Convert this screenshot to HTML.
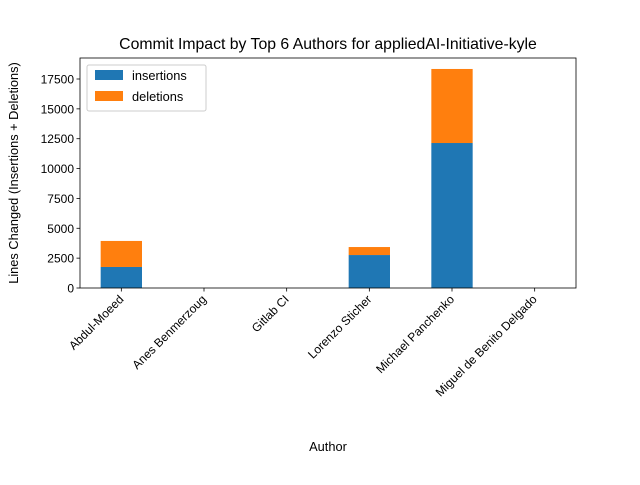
<!DOCTYPE html>
<html><head><meta charset="utf-8"><style>
body{margin:0;background:#fff}
svg text{font-family:"Liberation Sans","DejaVu Sans",sans-serif;fill:#000}
</style></head><body>
<svg id="c" width="640" height="480" xmlns="http://www.w3.org/2000/svg"></svg>
<script>
const categories=["Abdul-Moeed","Anes Benmerzoug","Gitlab CI","Lorenzo Sticher","Michael Panchenko","Miguel de Benito Delgado"];
const insertions=[1760,0,0,2760,12140,0];
const deletions=[2180,0,0,670,6200,0];
const yTicks=[0,2500,5000,7500,10000,12500,15000,17500];
const L=80,R=576,T=58,B=288;
const yMax=17500/((B-79)/(B-T));
const y=v=>B-v/yMax*(B-T);
const x=i=>L+(i+0.5)/categories.length*(R-L);
const bw=0.5/categories.length*(R-L);
const s=document.getElementById('c');
const ns="http://www.w3.org/2000/svg";
function mk(t,a,txt){const e=document.createElementNS(ns,t);for(const k in a)e.setAttribute(k,a[k]);if(txt!==undefined)e.textContent=txt;s.appendChild(e);return e;}
categories.forEach((c,i)=>{
  const r1=mk('rect',{x:x(i)-bw/2,y:y(insertions[i]),width:bw,height:B-y(insertions[i]),fill:'#1f77b4'});
  
  
  const r2=mk('rect',{x:x(i)-bw/2,y:y(insertions[i]+deletions[i]),width:bw,height:y(insertions[i])-y(insertions[i]+deletions[i]),fill:'#ff7f0e'});
  
  
  const tk=mk('line',{x1:x(i),x2:x(i),y1:B,y2:B+3.5,stroke:'#000','stroke-width':0.8});
  
  
  const ax=x(i)+3, ay=B+12;
  const t=mk('text',{x:ax,y:ay,'font-size':12,'text-anchor':'end',transform:`rotate(-45 ${ax} ${ay})`},c);
  
  
});
yTicks.forEach(v=>{
  const tk=mk('line',{x1:L-3.5,x2:L,y1:y(v),y2:y(v),stroke:'#000','stroke-width':0.8});
  
  
  const t=mk('text',{x:L-6,y:y(v)+4.5,'font-size':12,'text-anchor':'end'},String(v));
  
  
});
const fr=mk('rect',{x:L,y:T,width:R-L,height:B-T,fill:'none',stroke:'#000','stroke-width':0.8});


const ti=mk('text',{x:(L+R)/2,y:49,'font-size':15.8,'text-anchor':'middle'},'Commit Impact by Top 6 Authors for appliedAI-Initiative-kyle');


const xt=mk('text',{x:(L+R)/2,y:451,'font-size':12.8,'text-anchor':'middle'},'Author');


const yt=mk('text',{x:18,y:(T+B)/2,'font-size':12.8,'text-anchor':'middle',transform:`rotate(-90 18 ${(T+B)/2})`},'Lines Changed (Insertions + Deletions)');


const lg=mk('rect',{x:87,y:65,width:119,height:46,fill:'#fff',stroke:'#ccc','stroke-width':1,rx:2});


[['insertions','#1f77b4',70],['deletions','#ff7f0e',91]].forEach(([n,c,yy])=>{
  const r=mk('rect',{x:95,y:yy,width:28,height:10,fill:c});
  
  
  const t=mk('text',{x:132,y:yy+10,'font-size':12.8},n);
  
  
});
</script>
</body></html>
